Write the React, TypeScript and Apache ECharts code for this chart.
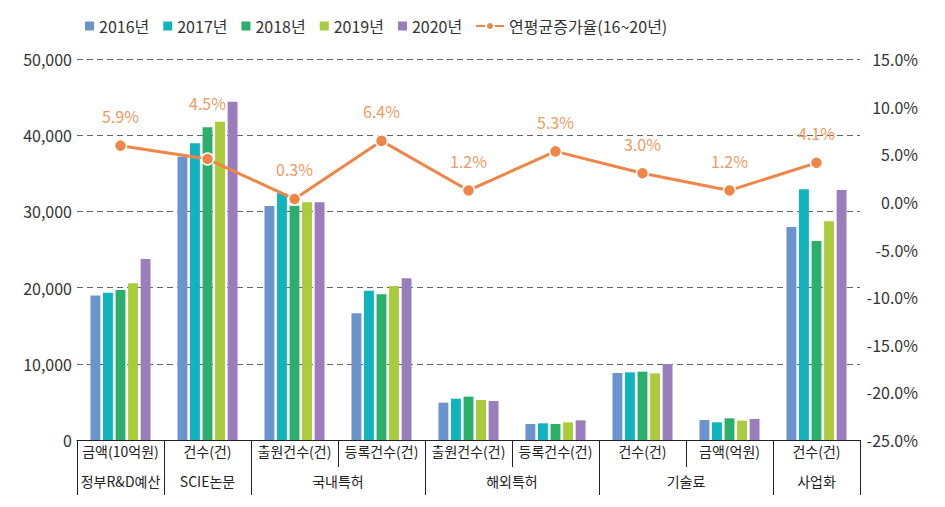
import React, { useEffect, useRef } from 'react';
import * as echarts from 'echarts';

const categories = ['금액(10억원)', '건수(건)', '출원건수(건)', '등록건수(건)', '출원건수(건)', '등록건수(건)', '건수(건)', '금액(억원)', '건수(건)'];
const groupNames = ['정부R&D예산', 'SCIE논문', '국내특허', '해외특허', '기술료', '사업화'];
const groupSpans = [1, 1, 2, 2, 2, 1];
const years = ['2016년', '2017년', '2018년', '2019년', '2020년'];
const v2016 = [18950, 37180, 30710, 16630, 4900, 2100, 8790, 2620, 27950];
const v2017 = [19330, 38940, 32370, 19600, 5420, 2190, 8880, 2320, 32900];
const v2018 = [19690, 41040, 30750, 19120, 5690, 2100, 8970, 2840, 26110];
const v2019 = [20560, 41770, 31190, 20210, 5250, 2320, 8750, 2540, 28700];
const v2020 = [23750, 44400, 31190, 21220, 5120, 2580, 9970, 2760, 32810];
const yearValues = [v2016, v2017, v2018, v2019, v2020];
const growthName = '연평균증가율(16~20년)';
const growth = [5.9, 4.5, 0.3, 6.4, 1.2, 5.3, 3.0, 1.2, 4.1];
const leftAxis = { min: 0, max: 50000, interval: 10000 };
const rightAxis = { min: -25, max: 15, interval: 5 };

const barColors = ['#6b93cc', '#10b4be', '#2ab06a', '#a9cb3c', '#9a7dbd'];
const lineColor = '#ef8547';
const labelColor = '#ef9a62';
const font = "'Noto Sans CJK KR', 'Noto Sans', sans-serif";

export default function App() {
  const ref = useRef<HTMLDivElement>(null);
  useEffect(() => {
    if (!ref.current) return;
    const chart = echarts.init(ref.current, undefined, { renderer: 'svg' });

    // group boundaries and centers derived from spans
    const bounds: number[] = [0];
    const centers: number[] = [];
    groupSpans.forEach((s) => {
      const start = bounds[bounds.length - 1];
      centers.push(start + s / 2);
      bounds.push(start + s);
    });

    const option: any = {
      animation: false,
      backgroundColor: '#ffffff',
      textStyle: { fontFamily: font },
      legend: [
        {
          data: years,
          left: 80,
          top: 13,
          icon: 'rect',
          itemWidth: 9,
          itemHeight: 9,
          itemGap: 14,
          textStyle: { fontSize: 16, color: '#333', fontFamily: font },
        },
        {
          data: [growthName],
          left: 470,
          top: 13,
          itemWidth: 28,
          itemHeight: 10,
          textStyle: { fontSize: 16, color: '#333', fontFamily: font },
        },
      ],
      grid: { left: 77, right: 85, top: 59, bottom: 67, containLabel: false },
      xAxis: [
        {
          type: 'category',
          data: categories,
          position: 'bottom',
          axisLine: { show: true, onZero: false, lineStyle: { color: '#222', width: 1 } },
          axisTick: { show: true, interval: 0, length: 27, lineStyle: { color: '#222' } },
          axisLabel: { interval: 0, margin: 4, fontSize: 14, color: '#222', fontFamily: font },
          splitLine: { show: false },
        },
        {
          type: 'value',
          min: 0,
          max: categories.length,
          position: 'bottom',
          axisLine: { show: false, onZero: false },
          splitLine: { show: false },
          axisTick: { show: true, customValues: bounds, length: 55, lineStyle: { color: '#222' } },
          axisLabel: {
            customValues: centers,
            margin: 34,
            fontSize: 14,
            color: '#222',
            fontFamily: font,
            formatter: (v: number) => {
              const i = centers.indexOf(v);
              return i >= 0 ? groupNames[i] : '';
            },
          },
        },
      ],
      yAxis: [
        {
          type: 'value',
          min: leftAxis.min,
          max: leftAxis.max,
          interval: leftAxis.interval,
          axisLine: { show: false },
          axisTick: { show: false },
          axisLabel: {
            margin: 5,
            fontSize: 16,
            color: '#333',
            fontFamily: font,
            formatter: (v: number) => v.toLocaleString('en-US'),
          },
          splitLine: { show: true, lineStyle: { color: '#666', type: [6, 4], width: 1 } },
        },
        {
          type: 'value',
          min: rightAxis.min,
          max: rightAxis.max,
          interval: rightAxis.interval,
          axisLine: { show: false },
          axisTick: { show: false },
          splitLine: { show: false },
          axisLabel: {
            margin: 58,
            align: 'right',
            fontSize: 16,
            color: '#333',
            fontFamily: font,
            formatter: (v: number) => v.toFixed(1) + '%',
          },
        },
      ],
      series: [
        ...years.map((y, i) => ({
          name: y,
          type: 'bar',
          xAxisIndex: 0,
          yAxisIndex: 0,
          data: yearValues[i],
          barGap: '27%',
          barCategoryGap: '31%',
          itemStyle: { color: barColors[i] },
        })),
        {
          name: growthName,
          type: 'line',
          xAxisIndex: 0,
          yAxisIndex: 1,
          z: 10,
          data: growth.map((v, i) => (i === 1 ? { value: v, label: { offset: [0, -26] } } : v)),
          symbol: 'circle',
          symbolSize: 12,
          lineStyle: { color: lineColor, width: 3 },
          itemStyle: { color: lineColor, borderColor: '#fff', borderWidth: 1.5 },
          label: {
            show: true,
            position: 'top',
            distance: 15,
            color: labelColor,
            fontSize: 16,
            fontFamily: font,
            formatter: (p: any) => Number(p.value).toFixed(1) + '%',
          },
        },
      ],
    };
    chart.setOption(option);
    return () => chart.dispose();
  }, []);
  return <div ref={ref} style={{ position: 'fixed', left: 0, top: 0, width: 945, height: 507 }} />;
}
